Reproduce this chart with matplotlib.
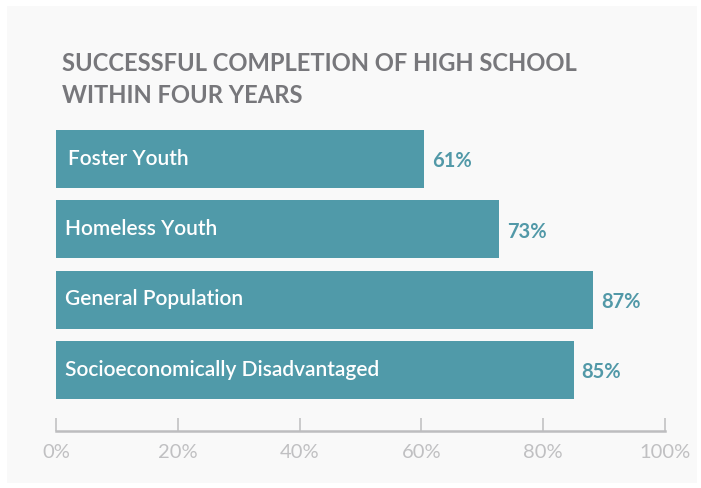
import matplotlib
matplotlib.use('Agg')
import matplotlib.pyplot as plt
from matplotlib.patches import Rectangle

# --- data ---
categories = ["Foster Youth", "Homeless Youth", "General Population",
              "Socioeconomically Disadvantaged"]
bar_values = [60.5, 72.7, 88.2, 85.0]
value_labels = ["61%", "73%", "87%", "85%"]
tick_values = [0, 20, 40, 60, 80, 100]
tick_labels = ["0%", "20%", "40%", "60%", "80%", "100%"]
title = "SUCCESSFUL COMPLETION OF HIGH SCHOOL\nWITHIN FOUR YEARS"

BAR_COLOR = "#509aa9"
LABEL_COLOR = "#5299a8"
TITLE_COLOR = "#77777b"
AXIS_COLOR = "#bdbdbf"
TICK_TEXT = "#c0c0c2"
PANEL = "#f9f9f9"
FONT = ["Lato", "DejaVu Sans"]

W, H = 701, 489
fig = plt.figure(figsize=(W / 100, H / 100), dpi=100)
fig.patch.set_facecolor("white")

# light panel behind everything
fig.patches.append(Rectangle((7 / W, 1 - 484 / H), 690 / W, 477 / H,
                             transform=fig.transFigure, facecolor=PANEL,
                             edgecolor="none", zorder=-10))

fig.text(62 / W, 1 - 52 / H, title, fontsize=17.1, fontweight="bold",
         color=TITLE_COLOR, family=FONT, va="top", ha="left",
         linespacing=1.45)

# axes placed in pixel terms: x 0..100 -> 56..665 px, spine at y=432 px
top_px, bot_px = 124.8, 432
ax = fig.add_axes([56 / W, 1 - bot_px / H, 609 / W, (bot_px - top_px) / H])
ax.set_facecolor("none")

y = list(range(len(categories)))
ax.barh(y, bar_values, height=0.82, color=BAR_COLOR, left=0)
ax.set_xlim(0, 100)
ax.set_ylim(3.867, -0.5)

for i, (cat, v, lab) in enumerate(zip(categories, bar_values, value_labels)):
    ax.text(1.9 if i == 0 else 1.5, i - 0.02, cat, color="white", fontsize=15,
            fontweight="semibold", family=FONT, va="center", ha="left")
    ax.text(v + 1.3, i + 0.02, lab, color=LABEL_COLOR, fontsize=14.5,
            fontweight="bold", family=FONT, va="center", ha="left")

for s in ["top", "right", "left"]:
    ax.spines[s].set_visible(False)
ax.spines["bottom"].set_color(AXIS_COLOR)
ax.spines["bottom"].set_linewidth(1.8)
ax.set_yticks([])
ax.set_xticks(tick_values)
ax.set_xticklabels(tick_labels)
ax.tick_params(axis="x", direction="in", length=9.5, width=1.1,
               color=AXIS_COLOR, labelcolor=TICK_TEXT, labelsize=14.5, pad=9)
for t in ax.get_xticklabels():
    t.set_family(FONT)

fig.savefig("out.png", dpi=100)
